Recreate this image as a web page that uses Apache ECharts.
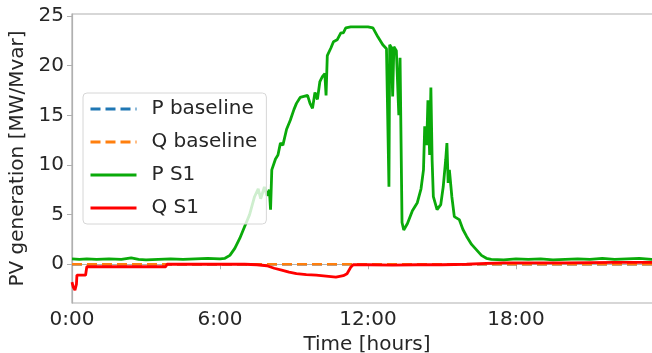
<!DOCTYPE html>
<html>
<head>
<meta charset="utf-8">
<script src="https://cdn.jsdelivr.net/npm/echarts@6/dist/echarts.min.js"></script>
<style>
  html, body { margin: 0; padding: 0; background: #fff; }
  #chart { width: 652px; height: 353px; }
</style>
</head>
<body>
<div id="chart"></div>
<script>
// time in hours, values in MW / Mvar
var baseTime = [0, 24];
var pBase = [0, 0];
var qBase = [0, 0];

var pTime = [0.0, 0.3, 0.6, 1.0, 1.5, 2.0, 2.4, 2.7, 3.0, 3.5, 4.0, 4.5, 5.0, 5.5, 6.0, 6.2,
  6.4, 6.6, 6.8, 7.0, 7.2, 7.4, 7.55, 7.65, 7.8, 7.9, 8.0, 8.05, 8.1, 8.25, 8.35, 8.45,
  8.55, 8.7, 8.85, 9.0, 9.1, 9.25, 9.4, 9.55, 9.65, 9.75, 9.85, 9.95, 10.05, 10.15, 10.25,
  10.3, 10.35, 10.5, 10.6, 10.75, 10.9, 11.0, 11.1, 11.3, 11.6, 12.0, 12.2, 12.4, 12.6,
  12.75, 12.82, 12.85, 12.88, 12.95, 13.0, 13.05, 13.15, 13.25, 13.3, 13.38, 13.45, 13.6,
  13.8, 14.0, 14.15, 14.25, 14.3, 14.38, 14.43, 14.5, 14.55, 14.6, 14.65, 14.8, 14.95,
  15.05, 15.15, 15.2, 15.25, 15.3, 15.4, 15.5, 15.7, 15.85, 16.0, 16.2, 16.4, 16.6, 16.8,
  17.0, 17.5, 18.0, 18.5, 19.0, 19.5, 20.0, 20.5, 21.0, 21.5, 22.0, 22.5, 23.0, 23.5, 23.9];
var pS1 = [0.55, 0.5, 0.55, 0.5, 0.55, 0.5, 0.65, 0.5, 0.45, 0.5, 0.55, 0.5, 0.55, 0.6, 0.55, 0.6,
  0.9, 1.6, 2.6, 3.8, 5.0, 6.8, 7.6, 6.6, 7.8, 6.9, 7.5, 5.5, 9.5, 10.6, 11.0, 12.2,
  12.0, 13.6, 14.5, 15.6, 16.2, 16.8, 16.9, 17.0, 16.2, 15.7, 17.3, 16.6, 18.4, 18.9, 19.2,
  17.0, 21.0, 21.8, 22.4, 22.6, 23.3, 23.3, 23.8, 23.9, 23.9, 23.9, 23.8, 22.9, 22.1,
  21.7, 21.9, 7.8, 22.1, 21.8, 16.9, 21.9, 21.5, 15.0, 20.8, 4.2, 3.45, 4.1,
  5.4, 6.2, 7.6, 9.5, 13.9, 12.0, 16.5, 11.0, 17.8, 10.5, 6.8, 5.5, 6.0,
  7.8, 10.5, 12.2, 8.2, 9.5, 6.8, 4.8, 4.5, 3.5, 2.8, 2.0, 1.45, 0.9, 0.6,
  0.5, 0.45, 0.55, 0.5, 0.55, 0.45, 0.5, 0.55, 0.5, 0.6, 0.5, 0.55, 0.6, 0.5, 0.55];

var qTime = [0.0, 0.05, 0.12, 0.18, 0.2, 0.55, 0.6, 1.0, 2.0, 3.0, 3.8, 3.85, 5.0, 6.0, 7.0,
  7.5, 7.9, 8.2, 8.5, 8.8, 9.1, 9.5, 9.9, 10.3, 10.7, 11.0, 11.15, 11.3, 11.4, 12.0, 13.0,
  14.0, 15.0, 16.0, 16.8, 17.5, 18.0, 20.0, 22.0, 23.9];
var qS1 = [-1.8, -2.3, -2.6, -2.0, -1.1, -1.1, -0.25, -0.25, -0.25, -0.25, -0.25, 0.0, 0.0, 0.0, 0.0,
  -0.05, -0.15, -0.4, -0.6, -0.8, -0.95, -1.05, -1.1, -1.2, -1.3, -1.15, -0.95, -0.3, -0.05, -0.05, -0.08,
  -0.05, -0.05, 0.0, 0.1, 0.15, 0.15, 0.15, 0.2, 0.2];

var xTicks = [0, 6, 12, 18];
var yTicks = [0, 5, 10, 15, 20, 25];

function pairs(xs, ys) {
  return xs.map(function (x, i) { return [x, ys[i]]; });
}

var font = 'DejaVu Sans';
var chart = echarts.init(document.getElementById('chart'));
chart.setOption({
  animation: false,
  grid: { left: 72, right: -10, top: 14, bottom: 50, outerBoundsMode: 'none', containLabel: false,
    show: true, borderColor: '#b0b0b0', borderWidth: 1.2 },
  legend: {
    orient: 'vertical',
    left: 83, top: 93,
    padding: [6, 9, 6, 6],
    itemWidth: 46, itemHeight: 20, itemGap: 13,
    backgroundColor: 'rgba(255,255,255,0.8)',
    borderColor: '#d6d6d6', borderWidth: 1, borderRadius: 4,
    itemStyle: { opacity: 0 },
    lineStyle: { width: 3 },
    textStyle: { fontFamily: font, fontSize: 20, color: '#262626', padding: [0, 0, 0, 10] },
    data: ['P baseline', 'Q baseline', 'P S1', 'Q S1']
  },
  xAxis: {
    type: 'value', min: 0, max: 23.92,
    name: 'Time [hours]', nameLocation: 'middle', nameGap: 30,
    nameTextStyle: { fontFamily: font, fontSize: 20, color: '#262626', verticalAlign: 'top' },
    axisLine: { lineStyle: { color: '#b0b0b0', width: 1.2 } },
    axisTick: { inside: false, length: 5, customValues: xTicks, lineStyle: { color: '#b0b0b0' } },
    axisLabel: { fontFamily: font, fontSize: 20, color: '#262626', margin: 7, customValues: xTicks,
      formatter: function (v) { return v + ':00'; } },
    splitLine: { show: false }
  },
  yAxis: {
    type: 'value', min: -3.9, max: 25.2,
    name: 'PV generation [MW/Mvar]', nameLocation: 'middle', nameGap: 36,
    nameTextStyle: { fontFamily: font, fontSize: 20, color: '#262626' },
    axisLine: { show: true, lineStyle: { color: '#b0b0b0', width: 1.2 } },
    axisTick: { show: true, length: 5, customValues: yTicks, lineStyle: { color: '#b0b0b0' } },
    axisLabel: { fontFamily: font, fontSize: 20, color: '#262626', margin: 8, customValues: yTicks },
    splitLine: { show: false }
  },
  series: [
    { name: 'P baseline', type: 'line', data: pairs(baseTime, pBase), symbol: 'none',
      color: '#1f77b4', lineStyle: { width: 2.5, type: [10, 5], color: '#1f77b4' } },
    { name: 'Q baseline', type: 'line', data: pairs(baseTime, qBase), symbol: 'none',
      color: '#ff7f0e', lineStyle: { width: 2.5, type: [10, 5], color: '#ff7f0e' } },
    { name: 'P S1', type: 'line', data: pairs(pTime, pS1), symbol: 'none',
      color: '#0aaa0a', lineStyle: { width: 2.8, color: '#0aaa0a' } },
    { name: 'Q S1', type: 'line', data: pairs(qTime, qS1), symbol: 'none',
      color: '#ff0000', lineStyle: { width: 2.8, color: '#ff0000' } }
  ]
});
</script>
</body>
</html>
